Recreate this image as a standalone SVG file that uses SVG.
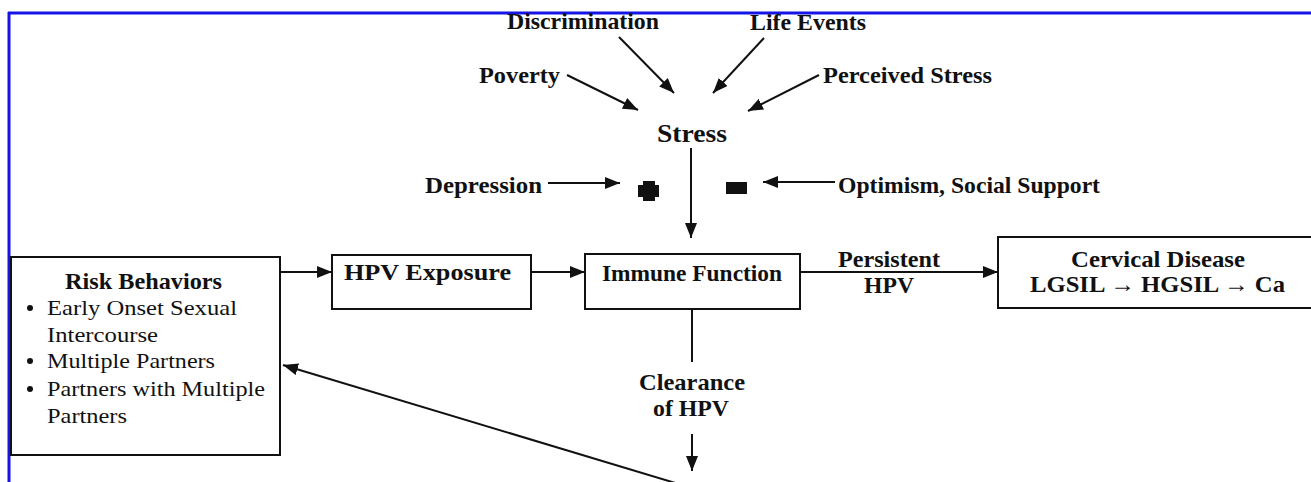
<svg xmlns="http://www.w3.org/2000/svg" width="1311" height="482" viewBox="0 0 1311 482">
<style>
.lbl{font-family:"Liberation Serif","Times New Roman",serif;font-weight:bold;font-size:24px;fill:#111}
.reg{font-family:"Liberation Serif","Times New Roman",serif;font-size:22px;fill:#111}
.box{fill:#fff;stroke:#111;stroke-width:2}
.con{stroke:#111;stroke-width:2;fill:none}
.arr{marker-end:url(#ah)}
.frame{stroke:#1414e6;stroke-width:3;fill:none}
</style>
<defs>
<marker id="ah" viewBox="0 0 15 12" refX="15" refY="6" markerWidth="15" markerHeight="12" markerUnits="userSpaceOnUse" orient="auto">
<path d="M0,0 L15,6 L0,12 Z" fill="#111"/>
</marker>
</defs>
<rect width="1311" height="482" fill="#fff"/>
<g id="frame">
<line class="frame" x1="8" y1="13" x2="1311" y2="13"/>
<line class="frame" x1="9" y1="12" x2="9" y2="482"/>
</g>
<g id="connectors">
<line class="con arr" x1="567" y1="75" x2="638" y2="110"/>
<line class="con arr" x1="619" y1="37" x2="674" y2="93"/>
<line class="con arr" x1="764" y1="38" x2="713" y2="93"/>
<line class="con arr" x1="819" y1="75" x2="748" y2="111"/>
<line class="con arr" x1="691" y1="148" x2="691" y2="238"/>
<line class="con arr" x1="548" y1="183" x2="620" y2="183"/>
<line class="con arr" x1="835" y1="182" x2="763" y2="182"/>
<line class="con arr" x1="280" y1="272" x2="332" y2="272"/>
<line class="con arr" x1="531" y1="272" x2="585" y2="272"/>
<line class="con arr" x1="800" y1="272" x2="998" y2="272"/>
<line class="con" x1="692" y1="309" x2="692" y2="362"/>
<line class="con arr" x1="692" y1="434" x2="692" y2="471"/>
<line class="con arr" x1="682" y1="485" x2="283" y2="365"/>
</g>
<g id="poverty"><text class="lbl" x="479" y="83" textLength="81" lengthAdjust="spacingAndGlyphs">Poverty</text></g>
<g id="discrimination"><text class="lbl" x="507" y="29" textLength="152" lengthAdjust="spacingAndGlyphs">Discrimination</text></g>
<g id="life-events"><text class="lbl" x="750" y="30" textLength="116" lengthAdjust="spacingAndGlyphs">Life Events</text></g>
<g id="perceived-stress"><text class="lbl" x="823" y="83" textLength="169" lengthAdjust="spacingAndGlyphs">Perceived Stress</text></g>
<g id="stress"><text class="lbl" x="657" y="142" style="font-size:26px" textLength="70" lengthAdjust="spacingAndGlyphs">Stress</text></g>
<g id="depression"><text class="lbl" x="425" y="193" textLength="117" lengthAdjust="spacingAndGlyphs">Depression</text></g>
<g id="plus"><path d="M643,181 H655 V185 H659 V197 H655 V201 H643 V197 H638 V185 H643 Z" fill="#111"/></g>
<g id="minus"><rect x="726" y="182" width="21" height="12" fill="#111"/></g>
<g id="optimism"><text class="lbl" x="838" y="193" textLength="262" lengthAdjust="spacingAndGlyphs">Optimism, Social Support</text></g>
<g id="risk-behaviors">
<rect class="box" x="11" y="257" width="269" height="198"/>
<text class="lbl" x="65" y="289" textLength="157" lengthAdjust="spacingAndGlyphs">Risk Behaviors</text>
<circle cx="30" cy="308" r="3" fill="#111"/>
<text class="reg" x="47" y="315" textLength="190" lengthAdjust="spacingAndGlyphs">Early Onset Sexual</text>
<text class="reg" x="47" y="342" textLength="111" lengthAdjust="spacingAndGlyphs">Intercourse</text>
<circle cx="30" cy="361" r="3" fill="#111"/>
<text class="reg" x="47" y="368" textLength="168" lengthAdjust="spacingAndGlyphs">Multiple Partners</text>
<circle cx="30" cy="389" r="3" fill="#111"/>
<text class="reg" x="47" y="396" textLength="218" lengthAdjust="spacingAndGlyphs">Partners with Multiple</text>
<text class="reg" x="47" y="423" textLength="80" lengthAdjust="spacingAndGlyphs">Partners</text>
</g>
<g id="hpv-exposure">
<rect class="box" x="332" y="255" width="199" height="54"/>
<text class="lbl" x="344" y="280" textLength="167" lengthAdjust="spacingAndGlyphs">HPV Exposure</text>
</g>
<g id="immune-function">
<rect class="box" x="585" y="254" width="215" height="55"/>
<text class="lbl" x="602" y="281" textLength="180" lengthAdjust="spacingAndGlyphs">Immune Function</text>
</g>
<g id="persistent-hpv">
<text class="lbl" x="838" y="267" textLength="102" lengthAdjust="spacingAndGlyphs">Persistent</text>
<text class="lbl" x="864" y="293" textLength="50" lengthAdjust="spacingAndGlyphs">HPV</text>
</g>
<g id="cervical-disease">
<rect class="box" x="998" y="237" width="330" height="71"/>
<text class="lbl" x="1071" y="267" textLength="174" lengthAdjust="spacingAndGlyphs">Cervical Disease</text>
<text class="lbl" x="1030" y="292" textLength="255" lengthAdjust="spacingAndGlyphs">LGSIL → HGSIL → Ca</text>
</g>
<g id="clearance">
<text class="lbl" x="639" y="390" textLength="106" lengthAdjust="spacingAndGlyphs">Clearance</text>
<text class="lbl" x="653" y="416" textLength="76" lengthAdjust="spacingAndGlyphs">of HPV</text>
</g>
</svg>
